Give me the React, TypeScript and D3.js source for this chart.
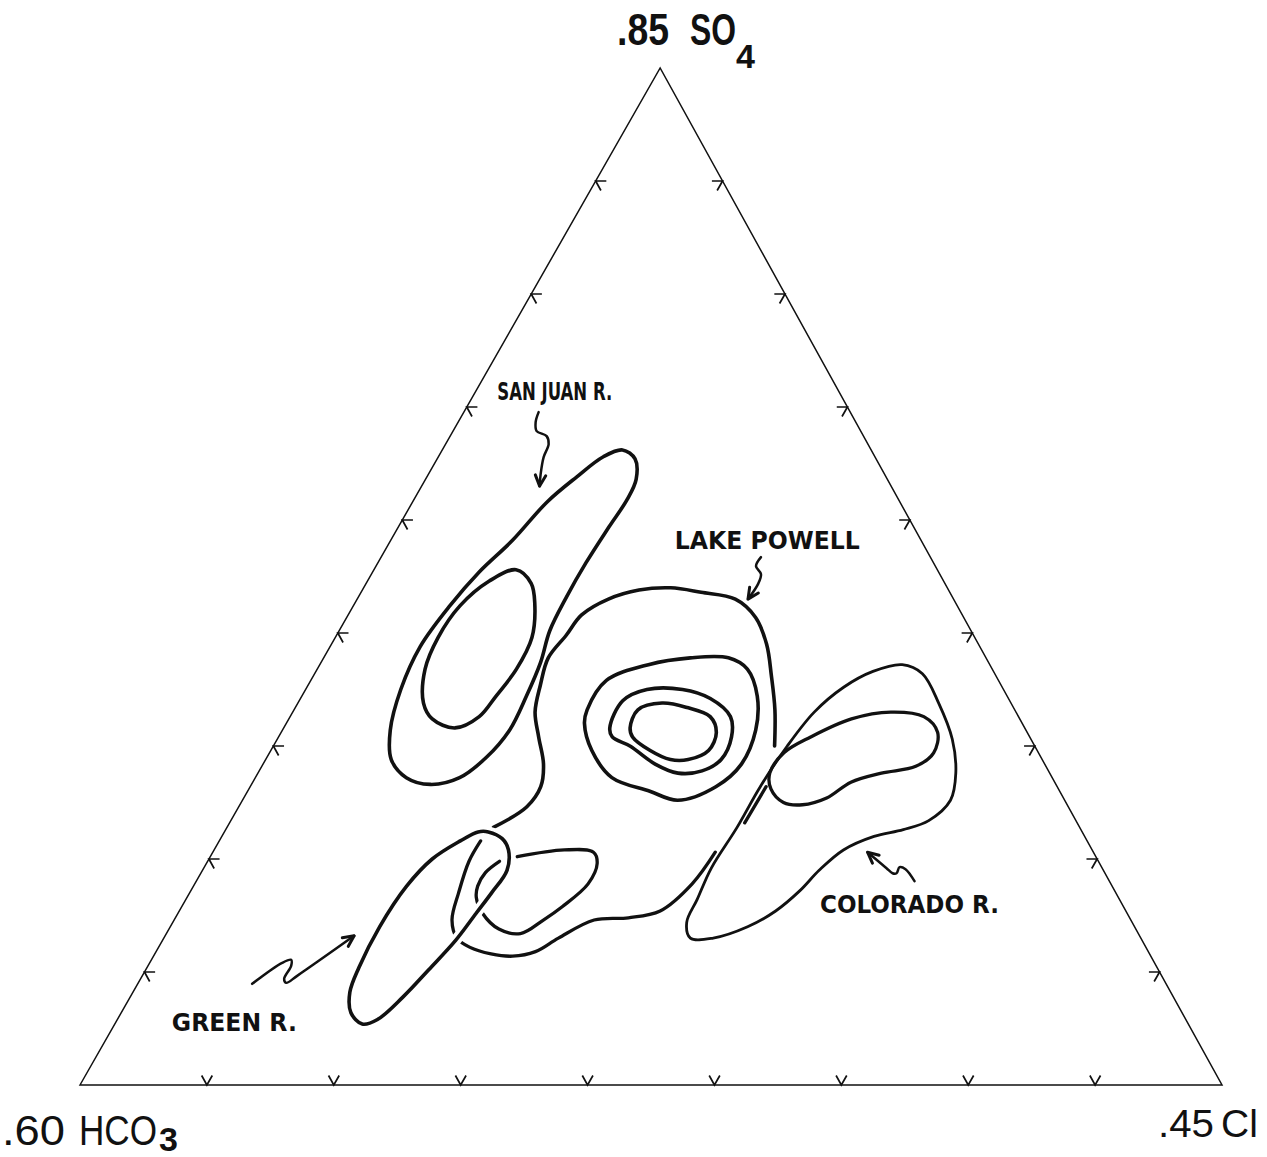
import * as d3 from 'd3';

// Ternary sub-region shown: SO4 40–85 %, HCO3 15–60 %, Cl 0–45 %
const SO4_MIN = 40;
const SPAN = 45;
const TICK_STEP = 5;

type Pt = [number, number]; // [SO4 %, Cl %]  (HCO3 = 100 - SO4 - Cl)

const sanJuanOuter: Pt[] = [
  [68.1, 7.1], [67.7, 7.8], [66.8, 8.3], [65.9, 8.4], [64.7, 8.3], [63.1, 8.2],
  [61.6, 8.2], [60.1, 8.3], [58.7, 8.65], [57.2, 8.85], [55.7, 8.95], [54.5, 8.65],
  [53.6, 8.05], [53.3, 7.05], [53.6, 5.95], [54.4, 4.95], [55.7, 4.25], [57.5, 3.75],
  [59.4, 3.55], [61.2, 3.8], [62.7, 4.2], [64.1, 4.8], [65.8, 5.3], [66.9, 5.9],
  [67.8, 6.5],
];
const sanJuanInner: Pt[] = [
  [62.8, 5.6], [62.2, 6.5], [61.3, 7.1], [59.8, 7.75], [58.4, 7.85], [57.2, 7.65],
  [56.3, 7.45], [55.8, 6.75], [56.2, 5.65], [56.9, 4.95], [58.4, 4.25], [59.8, 4.05],
  [61.2, 4.2], [62.3, 4.8],
];
// Lake Powell: outermost line is left open
const powellOuter: Pt[] = [
  [51.4, 10.5], [52.3, 11.35], [53.2, 11.45], [54.2, 11.05], [55.4, 10.25], [56.5, 9.55],
  [57.7, 9.15], [58.9, 8.85], [59.9, 9.05], [60.8, 9.2], [61.5, 9.9], [61.9, 10.9],
  [62.0, 12.1], [61.8, 13.4], [61.5, 14.9], [60.7, 16.1], [59.5, 17.15], [58.1, 18.05],
  [56.6, 18.95], [55.0, 19.75],
];
const powell2: Pt[] = [
  [56.6, 11.55], [57.9, 11.65], [58.6, 12.95], [58.9, 14.45], [58.9, 15.95], [58.4, 16.95],
  [57.2, 17.95], [55.7, 18.65], [54.2, 18.85], [53.2, 18.35], [52.6, 17.15], [53.0, 15.85],
  [53.6, 14.05], [54.8, 12.65], [56.0, 11.75],
];
const powell3: Pt[] = [
  [55.8, 12.85], [57.0, 12.75], [57.5, 13.45], [57.5, 14.85], [57.1, 16.15], [56.3, 17.35],
  [55.4, 17.85], [54.4, 17.95], [53.9, 17.45], [53.8, 16.55], [54.2, 15.45], [55.0, 14.05],
  [55.4, 13.15],
];
const powell4: Pt[] = [
  [55.8, 13.65], [56.6, 13.55], [56.9, 14.35], [56.7, 15.45], [56.3, 16.55], [55.6, 17.15],
  [54.8, 17.25], [54.4, 16.65], [54.4, 15.95], [54.8, 14.95], [55.4, 13.95],
];
const powellLower: Pt[] = [
  [50.8, 10.3], [49.9, 10.3], [48.5, 10.6], [47.3, 10.95], [46.5, 11.55], [46.1, 12.25],
  [45.8, 13.25], [45.7, 14.15], [45.9, 14.95], [46.5, 15.55], [47.3, 16.55], [47.4, 17.85],
  [47.7, 18.95], [48.9, 19.6], [50.3, 19.8],
];
const powellLobe: Pt[] = [
  [49.9, 11.5], [49.4, 11.2], [48.8, 11.2], [48.3, 11.4], [47.6, 12.0], [46.9, 13.0],
  [46.7, 13.95], [47.3, 14.55], [47.9, 15.0], [48.9, 15.5], [49.8, 15.4], [50.3, 15.0],
  [50.4, 13.8], [50.1, 12.1],
];
const greenOuter: Pt[] = [
  [51.2, 10.4], [50.9, 11.1], [50.4, 11.6], [49.5, 12.0], [48.5, 11.9], [47.6, 11.75],
  [46.4, 11.55], [45.1, 11.15], [43.9, 10.75], [42.9, 10.25], [42.7, 9.75], [43.2, 9.05],
  [44.1, 8.55], [45.2, 8.35], [47.0, 8.25], [48.8, 8.4], [50.0, 8.8], [50.8, 9.5],
  [51.2, 10.0],
];
const coloradoOuter: Pt[] = [
  [58.6, 22.95], [58.2, 23.95], [56.9, 25.25], [55.3, 26.6], [53.8, 27.5], [52.6, 27.9],
  [51.7, 27.5], [51.3, 26.7], [51.0, 25.7], [50.4, 24.8], [49.5, 24.3], [48.6, 24.0],
  [47.7, 23.5], [47.0, 22.75], [46.5, 21.65], [46.5, 20.75], [47.2, 20.25], [48.2, 20.15],
  [49.6, 20.0], [51.4, 20.1], [53.2, 20.1], [55.0, 20.25], [56.5, 20.55], [57.6, 21.15],
  [58.3, 21.95],
];
const coloradoInner: Pt[] = [
  [53.8, 20.17], [54.7, 20.27], [55.4, 20.97], [56.2, 22.17], [56.5, 23.57], [56.3, 24.97],
  [55.6, 25.87], [54.7, 26.17], [54.1, 25.77], [53.8, 24.57], [53.4, 23.57], [52.7, 22.97],
  [52.4, 22.17], [52.5, 21.37], [53.1, 20.57],
];
const coloradoStroke: Pt[] = [[53.2, 20.33], [51.6, 20.3]];

// labels and arrows (anchor in composition, arrow tail as pixel wiggle offsets)
const labels = [
  { text: 'SAN JUAN R.', at: [70.3, 1.05] as Pt, len: 115 },
  { text: 'LAKE POWELL', at: [63.7, 11.4] as Pt, len: 185 },
  { text: 'COLORADO R.', at: [47.6, 25.3] as Pt, len: 179 },
  { text: 'GREEN R.', at: [42.4, 2.4] as Pt, len: 125 },
];
const arrows: { tip: Pt; tail: [number, number][] }[] = [
  { tip: [66.5, 4.65], tail: [[-1, -74], [-4, -64], [-3, -55], [7, -50], [9, -42], [4, -29], [1, -12], [0, 0]] },
  { tip: [61.5, 15.4], tail: [[13, -42], [8, -33], [13, -25], [10, -15], [0, 0]] },
  { tip: [50.3, 25.8], tail: [[47, 29], [38, 17], [32, 15], [29, 21], [25, 21], [19, 16], [0, 0]] },
  { tip: [46.6, 7.45], tail: [[-102, 48], [-72, 27], [-63, 24], [-63, 30], [-70, 43], [-68, 47], [-57, 40], [0, 0]] },
];

const W = 1267;
const H = 1157;
const xScale = d3.scaleLinear().domain([0, 1]).range([80, 1222]);
const yScale = d3.scaleLinear().domain([0, 1]).range([1085, 68]);
const TOP_U = 0.508; // apex sits slightly right of the base midpoint

function project([so4, cl]: Pt): [number, number] {
  const h = (so4 - SO4_MIN) / SPAN;
  const c = cl / SPAN;
  return [xScale(c + h * TOP_U), yScale(h)];
}

const closedLine = d3.line<Pt>().x((d) => project(d)[0]).y((d) => project(d)[1]).curve(d3.curveCatmullRomClosed.alpha(0.5));
const openLine = d3.line<Pt>().x((d) => project(d)[0]).y((d) => project(d)[1]).curve(d3.curveCatmullRom.alpha(0.5));
const pxLine = d3.line().curve(d3.curveCatmullRom.alpha(0.5));

const contours = [
  { pts: sanJuanOuter, closed: true, w: 3.6 },
  { pts: sanJuanInner, closed: true, w: 3.6 },
  { pts: powellOuter, closed: false, w: 3.6 },
  { pts: powell2, closed: true, w: 3.6 },
  { pts: powell3, closed: true, w: 3.6 },
  { pts: powell4, closed: true, w: 3.6 },
  { pts: powellLower, closed: false, w: 3.3 },
  { pts: powellLobe, closed: false, w: 3.3 },
  { pts: coloradoOuter, closed: true, w: 2.8 },
  { pts: coloradoInner, closed: true, w: 3.3 },
  { pts: coloradoStroke, closed: false, w: 3.3 },
];

const ink = '#111';

export default function App() {
  const D = 0.42;
  const tickVals = d3.range(TICK_STEP, SPAN - 0.01, TICK_STEP);
  const ticks: string[] = [];
  tickVals.forEach((v) => {
    // bottom edge (SO4 min)
    const b: Pt = [SO4_MIN, v];
    ticks.push(d3.line()([project([b[0] + D, b[1]]), project(b), project([b[0] + D, b[1] - D])]) as string);
    // left edge (Cl = 0)
    const l: Pt = [SO4_MIN + v, 0];
    ticks.push(d3.line()([project([l[0], l[1] + D]), project(l), project([l[0] - D, l[1] + D])]) as string);
    // right edge (HCO3 min)
    const r: Pt = [SO4_MIN + v, SPAN - v];
    ticks.push(d3.line()([project([r[0] - D, r[1]]), project(r), project([r[0], r[1] - D])]) as string);
  });

  const top = project([SO4_MIN + SPAN, 0]);
  const bl = project([SO4_MIN, 0]);
  const br = project([SO4_MIN, SPAN]);

  return (
    <div style={{ position: 'absolute', left: 0, top: 0 }}>
      <svg width={W} height={H} viewBox={`0 0 ${W} ${H}`} style={{ background: '#fff', display: 'block' }}>
        {/* Triangle frame */}
        <path d={`M${bl[0]},${bl[1]}L${top[0]},${top[1]}L${br[0]},${br[1]}Z`} fill="none" stroke={ink} strokeWidth={1.5} />
        {ticks.map((d, i) => (
          <path key={i} d={d} fill="none" stroke={ink} strokeWidth={1.7} />
        ))}

        {/* Contours */}
        {contours.map((c, i) => (
          <path
            key={i}
            d={(c.closed ? closedLine(c.pts) : openLine(c.pts)) as string}
            fill="none"
            stroke={ink}
            strokeWidth={c.w}
            strokeLinecap="round"
            strokeLinejoin="round"
          />
        ))}
        {/* Green R. drawn last, passing over the Lake Powell lines */}
        <path d={closedLine(greenOuter) as string} fill="none" stroke="#fff" strokeWidth={11} />
        <path d={closedLine(greenOuter) as string} fill="none" stroke={ink} strokeWidth={3.6} />

        {/* Arrows */}
        {arrows.map((a, i) => {
          const [tx, ty] = project(a.tip);
          const pts = a.tail.map(([dx, dy]) => [tx + dx, ty + dy] as [number, number]);
          const prev = pts[pts.length - 2];
          const ang = Math.atan2(ty - prev[1], tx - prev[0]);
          const head = [ang + Math.PI - 0.45, ang + Math.PI + 0.45].map((t) => [tx + 12 * Math.cos(t), ty + 12 * Math.sin(t)]);
          return (
            <g key={i} fill="none" stroke={ink} strokeWidth={2.5} strokeLinecap="round" strokeLinejoin="round">
              <path d={pxLine(pts) as string} />
              <path d={`M${head[0][0]},${head[0][1]}L${tx},${ty}L${head[1][0]},${head[1][1]}`} strokeWidth={3} />
            </g>
          );
        })}

        {/* River labels */}
        {labels.map((l, i) => {
          const [x, y] = project(l.at);
          return (
            <text
              key={i}
              x={x}
              y={y}
              fontFamily="'DejaVu Sans Condensed', 'DejaVu Sans', sans-serif"
              fontWeight="bold"
              fontSize={25}
              fill={ink}
              textLength={l.len}
              lengthAdjust="spacingAndGlyphs"
            >
              {l.text}
            </text>
          );
        })}

        {/* Corner labels */}
        <g fill={ink} fontFamily="'Liberation Sans', Arial, sans-serif">
          <text x={617} y={45} fontSize={44} fontWeight="bold" textLength={52} lengthAdjust="spacingAndGlyphs">.85</text>
          <text x={690} y={45} fontSize={44} fontWeight="bold" textLength={46} lengthAdjust="spacingAndGlyphs">SO</text>
          <text x={736} y={68} fontSize={34} fontWeight="bold">4</text>

          <text x={2} y={1145} fontSize={42} textLength={63} lengthAdjust="spacingAndGlyphs">.60</text>
          <text x={79} y={1145} fontSize={42} textLength={78} lengthAdjust="spacingAndGlyphs">HCO</text>
          <text x={159} y={1151} fontSize={34} fontWeight="bold">3</text>

          <text x={1158} y={1137} fontSize={39} textLength={56} lengthAdjust="spacingAndGlyphs">.45</text>
          <text x={1221} y={1137} fontSize={39}>Cl</text>
        </g>
      </svg>
    </div>
  );
}
